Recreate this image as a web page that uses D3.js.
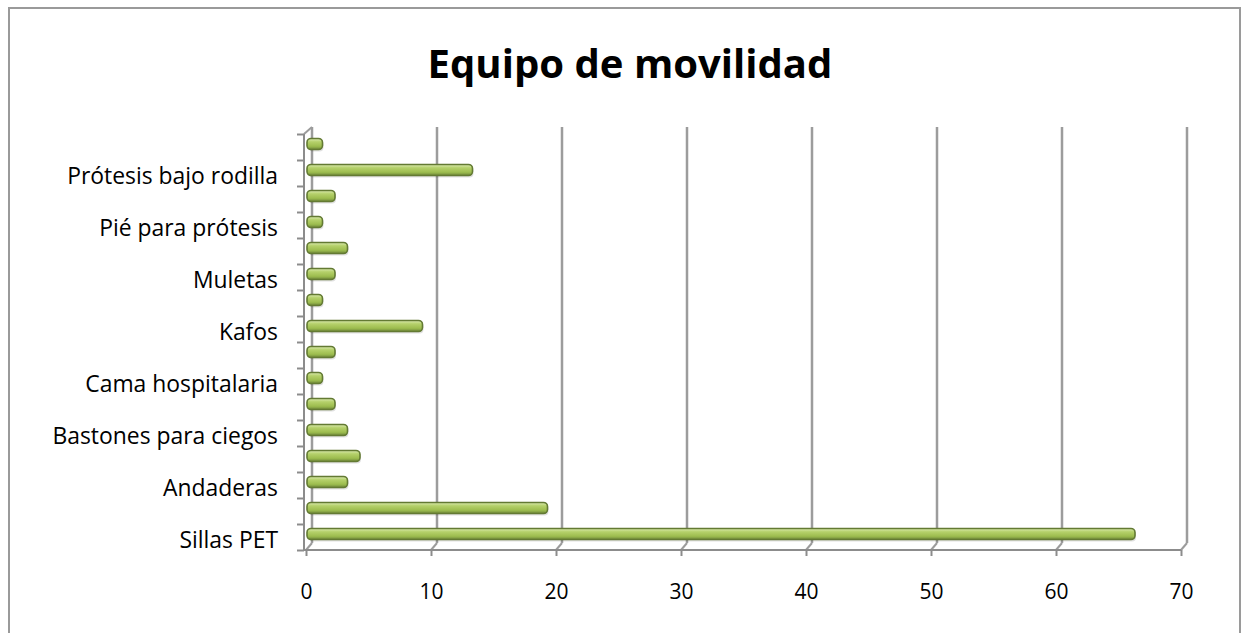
<!DOCTYPE html>
<html>
<head>
<meta charset="utf-8">
<script src="https://cdn.jsdelivr.net/npm/d3@7"></script>
<style>
	body { margin: 0; background: #fff; }
	text { font-family: "Open Sans", "Noto Sans", sans-serif; fill: #000; }
</style>
</head>
<body>
<svg id="chart" width="1244" height="633"></svg>
<script>
// categories, top to bottom (only every other one is labelled in the source)
var categories = ["", "Prótesis bajo rodilla", "", "Pié para prótesis", "", "Muletas", "", "Kafos",
	"", "Cama hospitalaria", "", "Bastones para ciegos", "", "Andaderas", "", "Sillas PET"];
var values = [1, 13, 2, 1, 3, 2, 1, 9, 2, 1, 2, 3, 4, 3, 19, 66];
var xTicks = [0, 10, 20, 30, 40, 50, 60, 70];
var title = "Equipo de movilidad";

var svg = d3.select("#chart");

// outer frame
svg.append("rect")
	.attr("x", 9).attr("y", 8)
	.attr("width", 1231).attr("height", 640)
	.attr("fill", "none")
	.attr("stroke", "#9a9a9a")
	.attr("stroke-width", 2);

// 3D depth shift between front axis and back wall
var depthX = 6, depthY = -7;

var x = d3.scaleLinear().domain([0, 70]).range([306, 1181]);
var y = d3.scaleBand().domain(d3.range(categories.length)).range([134, 550]);
var yBound = d3.scaleLinear().domain([0, categories.length]).range([134, 550]);

var defs = svg.append("defs");
var grad = defs.append("linearGradient")
	.attr("id", "barGrad")
	.attr("x1", 0).attr("y1", 0).attr("x2", 0).attr("y2", 1);
grad.append("stop").attr("offset", "0%").attr("stop-color", "#dcebb4");
grad.append("stop").attr("offset", "30%").attr("stop-color", "#b5d16b");
grad.append("stop").attr("offset", "70%").attr("stop-color", "#9dbd4f");
grad.append("stop").attr("offset", "100%").attr("stop-color", "#70893a");

// back wall gridlines
svg.append("g").attr("class", "grid")
	.selectAll("line")
	.data(xTicks)
	.enter()
	.append("line")
		.attr("x1", function(d) { return x(d) + depthX; })
		.attr("x2", function(d) { return x(d) + depthX; })
		.attr("y1", 127)
		.attr("y2", 550 + depthY)
		.attr("stroke", "#9c9c9c")
		.attr("stroke-width", 2.5);

// floor slants from front axis to back wall
svg.append("g").attr("class", "floor")
	.selectAll("path")
	.data(xTicks)
	.enter()
	.append("path")
		.attr("d", function(d) {
			return "M" + x(d) + ",550 L" + (x(d) + depthX) + "," + (550 + depthY);
		})
		.attr("stroke", "#9c9c9c")
		.attr("stroke-width", 2)
		.attr("fill", "none");

// left wall top slant
svg.append("path")
	.attr("d", "M" + (x(0) - 2) + ",134 L" + (x(0) + depthX) + ",127")
	.attr("stroke", "#9c9c9c")
	.attr("stroke-width", 2)
	.attr("fill", "none");

// bars
var bars = svg.append("g").attr("class", "bars");
var barH = 11;
bars.selectAll(".shadow")
	.data(values)
	.enter()
	.append("rect")
		.attr("class", "shadow")
		.attr("x", x(0) + 3)
		.attr("y", function(d, i) { return y(i) + y.bandwidth() / 2 - barH / 2 - 1; })
		.attr("width", function(d) { return x(d) - x(0) + 2; })
		.attr("height", barH)
		.attr("rx", 4)
		.attr("fill", "#000")
		.attr("opacity", 0.12);
bars.selectAll(".bar")
	.data(values)
	.enter()
	.append("rect")
		.attr("class", "bar")
		.attr("x", x(0) + 1)
		.attr("y", function(d, i) { return y(i) + y.bandwidth() / 2 - barH / 2 - 3; })
		.attr("width", function(d) { return x(d) - x(0) + 3; })
		.attr("height", barH)
		.attr("rx", 4)
		.attr("fill", "url(#barGrad)")
		.attr("stroke", "#637a33")
		.attr("stroke-width", 1.6);

// front axes
var xAxis = d3.axisBottom(x).tickValues(xTicks).tickSize(6).tickPadding(28);
var gx = svg.append("g")
	.attr("class", "x axis")
	.attr("transform", "translate(0,550)")
	.call(xAxis);
gx.select(".domain").attr("stroke", "#8c8c8c").attr("stroke-width", 2)
	.attr("d", "M" + (x(0) - 2) + ",0H" + x(70));
gx.selectAll(".tick line").attr("stroke", "#8c8c8c").attr("stroke-width", 2);
gx.selectAll(".tick text")
	.style("font-size", "21px")
	.style("font-family", "'Open Sans', sans-serif")
	.attr("fill", "#000");

var yAxis = d3.axisLeft(yBound).tickValues(d3.range(categories.length + 1)).tickSize(7).tickFormat("");
var gy = svg.append("g")
	.attr("class", "y axis")
	.attr("transform", "translate(" + (x(0) - 2) + ",0)")
	.call(yAxis);
gy.select(".domain").attr("stroke", "#8c8c8c").attr("stroke-width", 2)
	.attr("d", "M0,134V550");
gy.selectAll(".tick line").attr("stroke", "#8c8c8c").attr("stroke-width", 2);

// category labels
var labels = svg.append("g").attr("class", "labels")
	.selectAll("text")
	.data(categories)
	.enter()
	.append("text")
		.attr("x", 278)
		.attr("y", function(d, i) { return y(i) + y.bandwidth() / 2 + 3; })
		.attr("dy", "0.35em")
		.attr("text-anchor", "end")
		.style("font-size", "19px")
		.text(function(d) { return d; });
// fit label size so the longest matches the source width
var lw = labels.filter(function(d, i) { return i === 1; }).node().getComputedTextLength();
labels.style("font-size", (19 * 211 / lw) + "px");

// title, fitted to the source width
var t = svg.append("text")
	.attr("x", 630)
	.attr("y", 78)
	.attr("text-anchor", "middle")
	.style("font-size", "36px")
	.style("font-weight", "bold")
	.text(title);
var w = t.node().getComputedTextLength();
t.style("font-size", (36 * 405 / w) + "px");
</script>
</body>
</html>
